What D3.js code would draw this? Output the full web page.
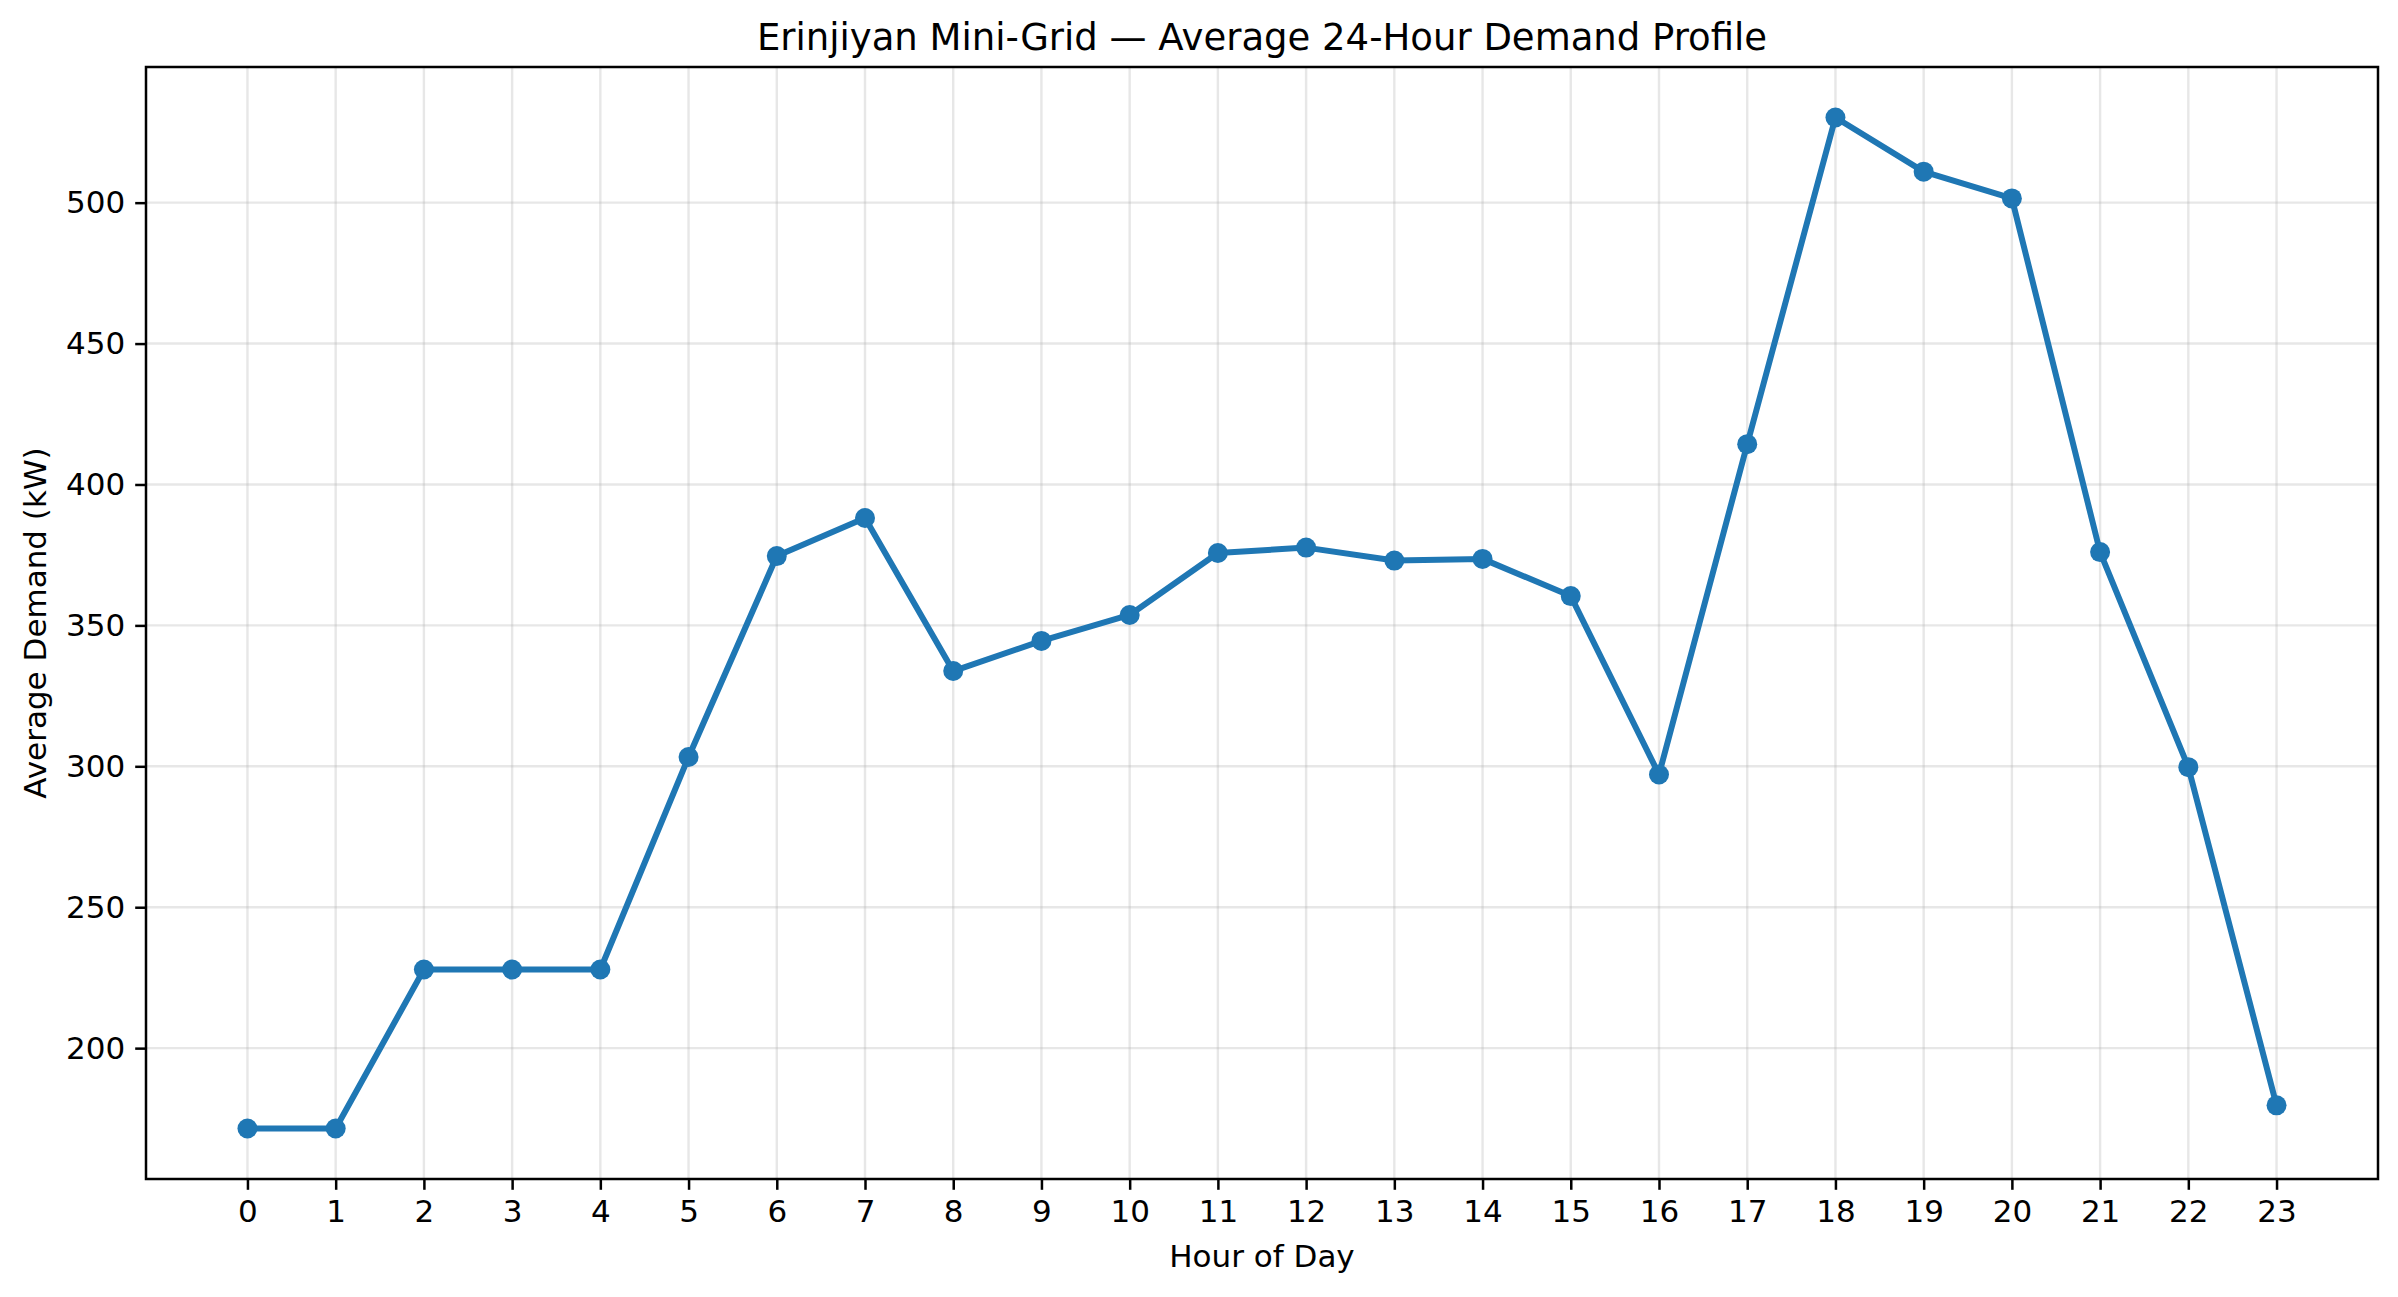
<!DOCTYPE html>
<html>
<head>
<meta charset="utf-8">
<script src="https://cdn.jsdelivr.net/npm/d3@7"></script>
<style>
  html, body { margin: 0; padding: 0; background: #fff; }
  svg { display: block; font-family: "DejaVu Sans", sans-serif; }
</style>
</head>
<body>
<svg id="chart" width="2398" height="1297"></svg>
<script>
// Hour of day (0-23)
const hours = d3.range(0, 24);
// Average demand in kW
const demand = [171.5, 171.5, 227.9, 227.9, 227.9, 303.3, 374.6, 388.1, 333.8, 344.5, 353.7, 375.7,
                377.6, 373.0, 373.6, 360.4, 297.1, 414.3, 530.2, 511.0, 501.5, 376.0, 299.7, 179.7];
const yTicks = [200, 250, 300, 350, 400, 450, 500];

const titleText = "Erinjiyan Mini-Grid \u2014 Average 24-Hour Demand Profile";
const xLabel = "Hour of Day";
const yLabel = "Average Demand (kW)";

const width = 2398, height = 1297;
const margin = { top: 67, right: 20, bottom: 118, left: 146 };
const plotW = width - margin.left - margin.right;
const plotH = height - margin.top - margin.bottom;

const svg = d3.select("#chart");
const g = svg.append("g").attr("transform", `translate(${margin.left},${margin.top})`);

// matplotlib-like 5% margins on both axes
const xExt = d3.extent(hours), yExt = d3.extent(demand);
const xPad = (xExt[1] - xExt[0]) * 0.05, yPad = (yExt[1] - yExt[0]) * 0.05;

const x = d3.scaleLinear().domain([xExt[0] - xPad, xExt[1] + xPad]).range([0, plotW]);
const y = d3.scaleLinear().domain([yExt[0] - yPad, yExt[1] + yPad]).range([plotH, 0]);

// grid
g.append("g").selectAll("line").data(hours).enter().append("line")
    .attr("x1", d => x(d)).attr("x2", d => x(d))
    .attr("y1", 0).attr("y2", plotH)
    .attr("stroke", "#b0b0b0").attr("stroke-opacity", 0.3).attr("stroke-width", 2.4);
g.append("g").selectAll("line").data(yTicks).enter().append("line")
    .attr("x1", 0).attr("x2", plotW)
    .attr("y1", d => y(d)).attr("y2", d => y(d))
    .attr("stroke", "#b0b0b0").attr("stroke-opacity", 0.3).attr("stroke-width", 2.4);

// line + markers
const line = d3.line().x((d, i) => x(hours[i])).y(d => y(d));
g.append("path")
    .datum(demand)
    .attr("d", line)
    .attr("fill", "none")
    .attr("stroke", "#1f77b4")
    .attr("stroke-width", 6)
    .attr("stroke-linejoin", "round")
    .attr("stroke-linecap", "square");

g.selectAll("circle.pt")
    .data(demand)
    .enter()
    .append("circle")
    .attr("class", "pt")
    .attr("cx", (d, i) => x(hours[i]))
    .attr("cy", d => y(d))
    .attr("r", 10)
    .attr("fill", "#1f77b4");

// axes
const xAxis = d3.axisBottom(x).tickValues(hours).tickFormat(d3.format("d"))
    .tickSize(10.8).tickPadding(10).tickSizeOuter(0);
const yAxis = d3.axisLeft(y).tickValues(yTicks).tickFormat(d3.format("d"))
    .tickSize(10.8).tickPadding(10).tickSizeOuter(0);

const gx = g.append("g").attr("transform", `translate(0,${plotH})`).call(xAxis);
const gy = g.append("g").call(yAxis);
[gx, gy].forEach(a => {
    a.select(".domain").remove();
    a.selectAll(".tick line").attr("stroke", "#000").attr("stroke-width", 2.5);
    a.selectAll(".tick text")
        .attr("fill", "#000")
        .style("font-size", "31px")
        .style("font-family", "'DejaVu Sans', sans-serif");
});

// spines
g.append("rect")
    .attr("x", 0).attr("y", 0)
    .attr("width", plotW).attr("height", plotH)
    .attr("fill", "none")
    .attr("stroke", "#000")
    .attr("stroke-width", 2.5);

// title and labels
svg.append("text")
    .attr("x", margin.left + plotW / 2)
    .attr("y", 50)
    .attr("text-anchor", "middle")
    .style("font-size", "37px")
    .text(titleText);

svg.append("text")
    .attr("x", margin.left + plotW / 2)
    .attr("y", 1267)
    .attr("text-anchor", "middle")
    .style("font-size", "31px")
    .text(xLabel);

svg.append("text")
    .attr("transform", `translate(46,${margin.top + plotH / 2}) rotate(-90)`)
    .attr("text-anchor", "middle")
    .style("font-size", "31px")
    .text(yLabel);
</script>
</body>
</html>
